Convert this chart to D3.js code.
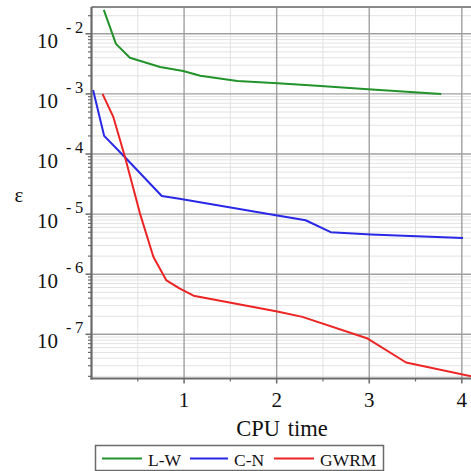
<!DOCTYPE html>
<html>
<head>
<meta charset="utf-8">
<script src="https://cdn.jsdelivr.net/npm/d3@7/dist/d3.min.js"></script>
<style>
  html, body { margin: 0; padding: 0; background: #fff; overflow: hidden; }
  svg { display: block; }
</style>
</head>
<body>
<svg id="chart" width="471" height="471" font-family="'Liberation Serif', 'DejaVu Serif', serif"></svg>
<script>
// CPU time vs. error for three schemes
const lwTime  = [0.133, 0.264, 0.415, 0.741, 0.990, 1.175, 1.576, 2.010, 2.476, 2.986, 3.778];
const lwErr   = [2.5e-2, 6.8e-3, 4.0e-3, 2.8e-3, 2.4e-3, 2.0e-3, 1.64e-3, 1.51e-3, 1.35e-3, 1.2e-3, 1.0e-3];

const cnTime  = [0.017, 0.137, 0.372, 0.759, 0.950, 2.007, 2.313, 2.584, 3.018, 4.013];
const cnErr   = [1.16e-3, 2.0e-4, 8.5e-5, 2.0e-5, 1.8e-5, 9.5e-6, 7.9e-6, 5.0e-6, 4.6e-6, 4.0e-6];

const gwTime  = [0.119, 0.234, 0.361, 0.524, 0.668, 0.806, 0.950, 1.102, 2.007, 2.278, 2.983, 3.398, 4.103];
const gwErr   = [1.0e-3, 4.2e-4, 9.0e-5, 1.02e-5, 1.95e-6, 8.0e-7, 5.8e-7, 4.4e-7, 2.4e-7, 1.95e-7, 8.5e-8, 3.4e-8, 2.0e-8];

const seriesNames  = ["L-W", "C-N", "GWRM"];
const seriesColors = ["#22922a", "#2828e6", "#ec2424"];

const xTickValues = [1, 2, 3, 4];
const yTickExponents = [-2, -3, -4, -5, -6, -7];

const xLabel = "CPU time";
const yLabel = "ε";

const svg = d3.select("#chart");
const pLeft = 91.5, pRight = 472, pTop = 7, pBottom = 378.5;
const textColor = "#111";

const x = d3.scaleLinear().domain([0, 4.11]).range([pLeft, pRight]);
const y = d3.scaleLog().domain([Math.pow(10, -7.735), Math.pow(10, -1.554)]).range([pBottom, pTop]);

const grid = svg.append("g");

// minor horizontal grid (2..9 × 10^k)
const minorY = [];
for (let k = -8; k <= -2; k++) {
  for (let m = 2; m <= 9; m++) {
    const v = m * Math.pow(10, k);
    if (v > y.domain()[0] && v < y.domain()[1]) minorY.push(v);
  }
}
grid.selectAll("line.minorY").data(minorY).join("line")
  .attr("x1", pLeft).attr("x2", pRight)
  .attr("y1", d => y(d)).attr("y2", d => y(d))
  .attr("stroke", "#e2e2e2").attr("stroke-width", 1);

// minor vertical grid (half units)
const minorX = [0.5, 1.5, 2.5, 3.5];
grid.selectAll("line.minorX").data(minorX).join("line")
  .attr("x1", d => x(d)).attr("x2", d => x(d))
  .attr("y1", pTop).attr("y2", pBottom)
  .attr("stroke", "#e2e2e2").attr("stroke-width", 1);

// major grid
const majorY = yTickExponents.map(e => Math.pow(10, e));
grid.selectAll("line.majorY").data(majorY).join("line")
  .attr("x1", pLeft).attr("x2", pRight)
  .attr("y1", d => y(d)).attr("y2", d => y(d))
  .attr("stroke", "#a0a0a0").attr("stroke-width", 1.4);
grid.selectAll("line.majorX").data(xTickValues).join("line")
  .attr("x1", d => x(d)).attr("x2", d => x(d))
  .attr("y1", pTop).attr("y2", pBottom)
  .attr("stroke", "#a0a0a0").attr("stroke-width", 1.4);

// top frame
svg.append("line").attr("x1", pLeft).attr("x2", pRight).attr("y1", pTop).attr("y2", pTop)
  .attr("stroke", "#8a8a8a").attr("stroke-width", 2);

// data lines
const line = d3.line().x(d => x(d[0])).y(d => y(d[1]));
const series = [
  d3.zip(lwTime, lwErr),
  d3.zip(cnTime, cnErr),
  d3.zip(gwTime, gwErr)
];
svg.append("g").selectAll("path").data(series).join("path")
  .attr("d", line)
  .attr("fill", "none")
  .attr("stroke", (d, i) => seriesColors[i])
  .attr("stroke-width", 2)
  .attr("stroke-linejoin", "round");

// axes
const axisColor = "#6a6a6a";
svg.append("line").attr("x1", pLeft).attr("x2", pLeft).attr("y1", pTop).attr("y2", pBottom + 1)
  .attr("stroke", axisColor).attr("stroke-width", 2.2);
svg.append("line").attr("x1", pLeft - 1).attr("x2", pRight).attr("y1", pBottom).attr("y2", pBottom)
  .attr("stroke", axisColor).attr("stroke-width", 2.2);

// y ticks
svg.append("g").selectAll("line").data(majorY).join("line")
  .attr("x1", pLeft - 6).attr("x2", pLeft).attr("y1", d => y(d)).attr("y2", d => y(d))
  .attr("stroke", axisColor).attr("stroke-width", 1.5);
svg.append("g").selectAll("line").data(minorY).join("line")
  .attr("x1", pLeft - 3.5).attr("x2", pLeft).attr("y1", d => y(d)).attr("y2", d => y(d))
  .attr("stroke", axisColor).attr("stroke-width", 1.2);

// x ticks
svg.append("g").selectAll("line").data(xTickValues).join("line")
  .attr("x1", d => x(d)).attr("x2", d => x(d)).attr("y1", pBottom).attr("y2", pBottom + 5)
  .attr("stroke", axisColor).attr("stroke-width", 1.5);
svg.append("g").selectAll("line").data(minorX).join("line")
  .attr("x1", d => x(d)).attr("x2", d => x(d)).attr("y1", pBottom).attr("y2", pBottom + 3)
  .attr("stroke", axisColor).attr("stroke-width", 1.2);

// y tick labels: 10 with superscript exponent
const yl = svg.append("g").attr("fill", textColor).selectAll("g").data(yTickExponents).join("g")
  .attr("transform", e => `translate(0,${y(Math.pow(10, e))})`);
yl.append("text").attr("x", 37).attr("y", 14).attr("font-size", 21).text("10");
yl.append("text").attr("x", 66).attr("y", -1).attr("font-size", 16).text("-");
yl.append("text").attr("x", 75).attr("y", -1).attr("font-size", 16.5).text(e => String(-e));

// x tick labels
svg.append("g").attr("fill", textColor).selectAll("text").data(xTickValues).join("text")
  .attr("x", d => x(d)).attr("y", 407).attr("text-anchor", "middle")
  .attr("font-size", 21).text(d => d);

// axis titles
svg.append("text").attr("fill", textColor).attr("x", 282).attr("y", 436).attr("text-anchor", "middle")
  .attr("font-size", 22.5).attr("word-spacing", 2).text(xLabel);
svg.append("text").attr("fill", textColor).attr("x", 19).attr("y", 202).attr("text-anchor", "middle")
  .attr("font-size", 21).text(yLabel);

// legend
const lg = svg.append("g");
lg.append("rect").attr("x", 95.5).attr("y", 445.5).attr("width", 288).attr("height", 25)
  .attr("fill", "#fff").attr("stroke", "#6a6a6a").attr("stroke-width", 1.5);
const legendItems = [
  { x0: 102, x1: 142, tx: 148 },
  { x0: 190, x1: 228, tx: 234 },
  { x0: 274, x1: 314, tx: 320 }
];
legendItems.forEach((it, i) => {
  lg.append("line").attr("x1", it.x0).attr("x2", it.x1).attr("y1", 458.5).attr("y2", 458.5)
    .attr("stroke", seriesColors[i]).attr("stroke-width", 2);
  lg.append("text").attr("fill", textColor).attr("x", it.tx).attr("y", 465.5)
    .attr("font-size", 17.5).text(seriesNames[i]);
});
</script>
</body>
</html>
